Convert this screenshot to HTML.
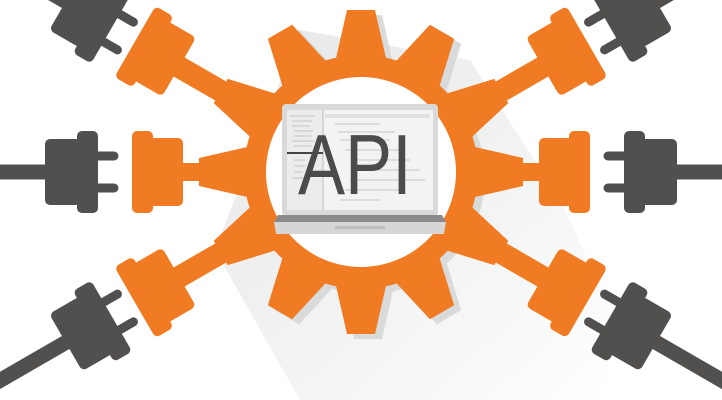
<!DOCTYPE html>
<html><head><meta charset="utf-8"><style>
html,body{margin:0;padding:0;background:#fff;width:722px;height:400px;overflow:hidden;}
svg{display:block;overflow:hidden;}
</style></head><body>
<svg width="722" height="400" viewBox="0 0 722 400" xmlns="http://www.w3.org/2000/svg">
<defs>
<linearGradient id="sh" x1="0" y1="0" x2="1" y2="1">
<stop offset="0" stop-color="#e6e8e8"/><stop offset="0.6" stop-color="#f3f4f4"/><stop offset="1" stop-color="#ffffff"/>
</linearGradient>
<g id="tooth"><polygon points="105,-27 162,-14 162,14 105,27"/></g>
<g id="plug">
<rect x="140" y="-9" width="42" height="18" fill="#f07b23"/>
<rect x="178" y="-34" width="36" height="68" rx="5" fill="#f07b23"/>
<rect x="208" y="-41" width="21" height="82" rx="5" fill="#f07b23"/>
<line x1="247" y1="-16" x2="266" y2="-16" stroke="#52504e" stroke-width="9" stroke-linecap="round"/>
<line x1="247" y1="16" x2="266" y2="16" stroke="#52504e" stroke-width="9" stroke-linecap="round"/>
<rect x="263" y="-41" width="21" height="82" rx="5" fill="#52504e"/>
<rect x="280" y="-33" width="36" height="66" rx="5" fill="#52504e"/>
<rect x="312" y="-7.5" width="400" height="15" fill="#52504e"/>
</g>
<g id="dplug">
<rect x="140" y="-11" width="74" height="22" fill="#f07b23"/>
<rect x="210" y="-34" width="36" height="68" rx="5" fill="#f07b23"/>
<rect x="240" y="-41" width="21" height="82" rx="5" fill="#f07b23"/>
<line x1="272" y1="-16" x2="291" y2="-16" stroke="#52504e" stroke-width="9" stroke-linecap="round"/>
<line x1="272" y1="16" x2="291" y2="16" stroke="#52504e" stroke-width="9" stroke-linecap="round"/>
<rect x="288" y="-41" width="21" height="82" rx="5" fill="#52504e"/>
<rect x="305" y="-33" width="36" height="66" rx="5" fill="#52504e"/>
<rect x="337" y="-7.5" width="400" height="15" fill="#52504e"/>
</g>
</defs>
<polygon points="300,30 470,60 560,200 620,330 600,400 300,400 215,250" fill="url(#sh)"/>
<g transform="translate(368,177)" fill="#d9dbdb">
<circle r="117"/>
<use href="#tooth" transform="rotate(60)"/><use href="#tooth" transform="rotate(90)"/><use href="#tooth" transform="rotate(120)"/>
<use href="#tooth" transform="rotate(240)"/><use href="#tooth" transform="rotate(270)"/><use href="#tooth" transform="rotate(300)"/>
</g>
<g transform="translate(361,172)">
<g fill="#f07b23">
<circle r="117"/>
<use href="#tooth" transform="rotate(0)"/><use href="#tooth" transform="rotate(30)"/><use href="#tooth" transform="rotate(60)"/>
<use href="#tooth" transform="rotate(90)"/><use href="#tooth" transform="rotate(120)"/><use href="#tooth" transform="rotate(150)"/>
<use href="#tooth" transform="rotate(180)"/><use href="#tooth" transform="rotate(210)"/><use href="#tooth" transform="rotate(240)"/>
<use href="#tooth" transform="rotate(270)"/><use href="#tooth" transform="rotate(300)"/><use href="#tooth" transform="rotate(330)"/>
</g>
<use href="#plug" transform="rotate(0)"/>
<use href="#dplug" transform="rotate(30)"/>
<use href="#dplug" transform="rotate(-30)"/>
<use href="#plug" transform="rotate(180)"/>
<use href="#dplug" transform="rotate(150)"/>
<use href="#dplug" transform="rotate(210)"/>
<circle r="95" fill="#ffffff"/>
</g>
<rect x="282" y="104" width="156" height="112" rx="4" fill="#d9d9d9"/>
<rect x="287" y="110" width="146" height="100" fill="#f3f3f3"/>
<rect x="287" y="110" width="36" height="100" fill="#ececec"/>
<line x1="323" y1="110" x2="323" y2="210" stroke="#bdbdbd" stroke-width="1"/>
<rect x="287" y="152" width="36" height="2" fill="#444"/>
<g stroke="#c4c4c4" stroke-width="1">
<line x1="290" y1="116" x2="315" y2="116"/><line x1="292" y1="121" x2="312" y2="121"/><line x1="292" y1="126" x2="310" y2="126"/>
<line x1="294" y1="131" x2="313" y2="131"/><line x1="294" y1="136" x2="311" y2="136"/><line x1="292" y1="141" x2="314" y2="141"/>
<line x1="294" y1="146" x2="312" y2="146"/><line x1="294" y1="160" x2="305" y2="160"/><line x1="294" y1="166" x2="305" y2="166"/>
<line x1="294" y1="172" x2="303" y2="172"/><line x1="292" y1="178" x2="306" y2="178"/>
<line x1="330" y1="116" x2="420" y2="116"/><line x1="335" y1="124" x2="380" y2="124"/><line x1="338" y1="132" x2="395" y2="132"/>
<line x1="340" y1="140" x2="390" y2="140"/><line x1="345" y1="150" x2="400" y2="150"/><line x1="350" y1="160" x2="410" y2="160"/>
<line x1="355" y1="170" x2="420" y2="170"/><line x1="350" y1="180" x2="425" y2="180"/><line x1="345" y1="190" x2="405" y2="190"/>
<line x1="340" y1="200" x2="380" y2="200"/>
</g>
<rect x="325" y="114" width="105" height="4" fill="#e0e0e0"/>
<polygon points="278,215 442,215 446,222 274,222" fill="#8a8a8a"/>
<polygon points="274,222 446,222 444,234 276,234" fill="#d6d6d6"/>
<rect x="335" y="226" width="50" height="3" fill="#bdbdbd"/>
<text x="0" y="0" transform="translate(298,194) scale(0.83,1)" font-family="Liberation Sans, sans-serif" font-size="85" fill="#4b4b4b">API</text>
</svg>
</body></html>
